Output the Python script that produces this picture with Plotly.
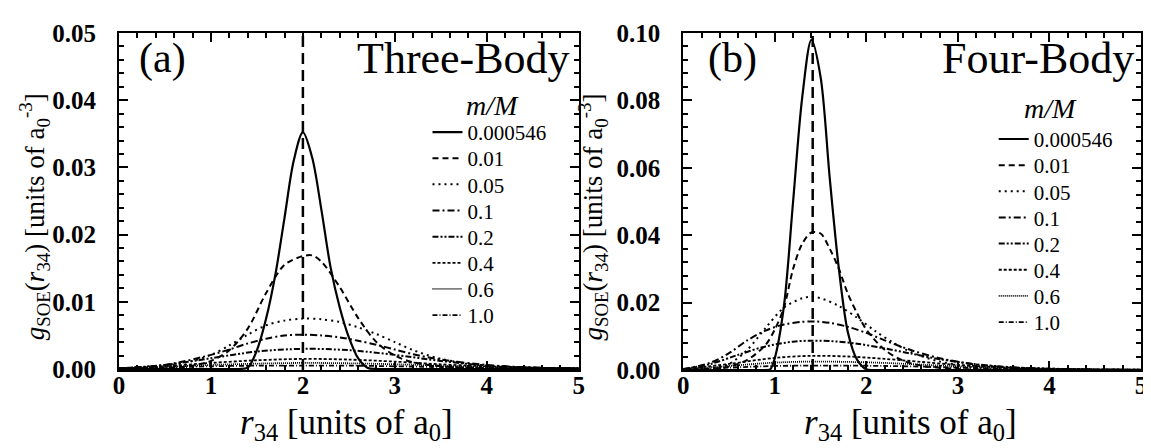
import plotly.graph_objects as go

# ---------------- data ----------------
mass_ratio_labels = ["0.000546", "0.01", "0.05", "0.1", "0.2", "0.4", "0.6", "1.0"]

# Three-body panel (a)
tb_x_0000546 = [0.0, 1.0, 1.3, 1.4, 1.5, 1.6, 1.7, 1.8, 1.9, 2.0, 2.1, 2.2, 2.3, 2.4, 2.5, 2.6, 2.7, 2.8, 3.0, 5.0]
tb_g_0000546 = [0, 0, 0, 0.0002, 0.0028, 0.0075, 0.0140, 0.0225, 0.0310, 0.0352, 0.0315, 0.0238, 0.0152, 0.0092, 0.0047, 0.0016, 0.0002, 0, 0, 0]
tb_x_001 = [0.0, 0.5, 0.8, 1.0, 1.2, 1.4, 1.6, 1.8, 2.0, 2.1, 2.2, 2.4, 2.6, 2.8, 3.0, 3.2, 3.5, 4.0, 4.5, 5.0]
tb_g_001 = [0, 0.0001, 0.0005, 0.0012, 0.0028, 0.0060, 0.0113, 0.0155, 0.0168, 0.0169, 0.0160, 0.0122, 0.0076, 0.0040, 0.0020, 0.0010, 0.0004, 0.0001, 0, 0]
tb_x_005 = [0.0, 0.5, 0.8, 1.0, 1.2, 1.4, 1.6, 1.8, 2.0, 2.2, 2.4, 2.6, 2.8, 3.0, 3.2, 3.5, 4.0, 4.5, 5.0]
tb_g_005 = [0.0, 0.0004, 0.0012, 0.0021, 0.0035, 0.0051, 0.0065, 0.0072, 0.0075, 0.0074, 0.0070, 0.0062, 0.0052, 0.0040, 0.0028, 0.0015, 0.0005, 0.0002, 0.0001]
tb_x_01 = [0.0, 0.5, 1.0, 1.2, 1.4, 1.6, 1.8, 2.0, 2.2, 2.4, 2.6, 2.8, 3.0, 3.2, 3.5, 4.0, 4.5, 5.0]
tb_g_01 = [0.0001, 0.0006, 0.0021, 0.0029, 0.0038, 0.0045, 0.0050, 0.0051, 0.0050, 0.0047, 0.0042, 0.0036, 0.0029, 0.0022, 0.0014, 0.0006, 0.0002, 0.0001]
tb_x_broad = [0.0, 0.5, 1.0, 1.5, 2.0, 2.5, 3.0, 3.5, 4.0, 4.5, 5.0]
tb_g_02 = [0.0001, 0.0006, 0.0016, 0.0026, 0.0030, 0.0028, 0.0021, 0.0012, 0.0005, 0.0002, 0.0001]
tb_g_04 = [0.0001, 0.0004, 0.0009, 0.0013, 0.0015, 0.0014, 0.0011, 0.0007, 0.0004, 0.0002, 0.0001]
tb_g_06 = [0.0001, 0.0003, 0.0006, 0.0008, 0.0009, 0.00085, 0.0007, 0.0005, 0.0003, 0.0002, 0.0001]
tb_g_10 = [0.0001, 0.0002, 0.0004, 0.0005, 0.0005, 0.0005, 0.0004, 0.0003, 0.0002, 0.0001, 0.0001]

# Four-body panel (b)
fb_x_0000546 = [0.0, 0.8, 0.9, 0.95, 1.0, 1.1, 1.2, 1.3, 1.4, 1.5, 1.6, 1.7, 1.8, 1.9, 2.0, 2.1, 2.5, 5.0]
fb_g_0000546 = [0, 0, 0, 0.0002, 0.0035, 0.019, 0.050, 0.081, 0.098, 0.087, 0.057, 0.030, 0.011, 0.003, 0.0002, 0, 0, 0]
fb_x_001 = [0.0, 0.3, 0.5, 0.7, 0.9, 1.0, 1.1, 1.2, 1.3, 1.4, 1.5, 1.6, 1.7, 1.8, 1.9, 2.0, 2.2, 2.4, 2.6, 3.0, 3.5, 5.0]
fb_g_001 = [0, 0.0003, 0.0010, 0.0030, 0.0075, 0.0120, 0.0185, 0.0300, 0.0375, 0.0408, 0.0405, 0.0360, 0.0300, 0.0225, 0.0168, 0.0120, 0.0060, 0.0028, 0.0013, 0.0003, 0.0001, 0]
fb_x_005 = [0.0, 0.3, 0.5, 0.7, 0.9, 1.1, 1.3, 1.4, 1.5, 1.7, 1.9, 2.1, 2.3, 2.5, 2.8, 3.2, 3.6, 4.0, 5.0]
fb_g_005 = [0, 0.0004, 0.0018, 0.0060, 0.0125, 0.0185, 0.0213, 0.0217, 0.0213, 0.0190, 0.0155, 0.0115, 0.0080, 0.0052, 0.0025, 0.0009, 0.0003, 0.0001, 0]
fb_x_01 = [0.0, 0.3, 0.5, 0.7, 0.9, 1.1, 1.3, 1.45, 1.6, 1.8, 2.0, 2.2, 2.5, 2.8, 3.2, 3.6, 4.0, 5.0]
fb_g_01 = [0.0002, 0.0022, 0.0050, 0.0088, 0.0117, 0.0135, 0.0143, 0.0144, 0.0140, 0.0128, 0.0110, 0.0088, 0.0058, 0.0035, 0.0016, 0.0007, 0.0003, 0]
fb_x_02 = [0.0, 0.3, 0.6, 0.9, 1.2, 1.4, 1.6, 1.9, 2.2, 2.5, 2.8, 3.2, 3.6, 4.0, 4.5, 5.0]
fb_g_02 = [0.0003, 0.0018, 0.0045, 0.0070, 0.0084, 0.0087, 0.0086, 0.0078, 0.0064, 0.0048, 0.0032, 0.0017, 0.0008, 0.0004, 0.0001, 0.0001]
fb_x_broad = [0.0, 0.5, 1.0, 1.4, 1.8, 2.2, 2.6, 3.0, 3.5, 4.0, 4.5, 5.0]
fb_g_04 = [0.0002, 0.0018, 0.0036, 0.0042, 0.0040, 0.0033, 0.0024, 0.0015, 0.0008, 0.0004, 0.0002, 0.0001]
fb_g_06 = [0.0002, 0.0012, 0.0022, 0.0025, 0.0024, 0.0021, 0.0016, 0.0011, 0.0006, 0.0003, 0.0002, 0.0001]
fb_g_10 = [0.0001, 0.0007, 0.0012, 0.0013, 0.0013, 0.0012, 0.0010, 0.0007, 0.0004, 0.0002, 0.0001, 0.0001]

# vertical reference lines (position of r34 marker in each panel)
reference_r = [2.0, 1.414]

three_body = [
    (tb_x_0000546, tb_g_0000546), (tb_x_001, tb_g_001), (tb_x_005, tb_g_005), (tb_x_01, tb_g_01),
    (tb_x_broad, tb_g_02), (tb_x_broad, tb_g_04), (tb_x_broad, tb_g_06), (tb_x_broad, tb_g_10),
]
four_body = [
    (fb_x_0000546, fb_g_0000546), (fb_x_001, fb_g_001), (fb_x_005, fb_g_005), (fb_x_01, fb_g_01),
    (fb_x_02, fb_g_02), (fb_x_broad, fb_g_04), (fb_x_broad, fb_g_06), (fb_x_broad, fb_g_10),
]

# ---------------- layout helpers ----------------
W, H = 1151, 448
ML, MR, MT, MB = 111, 13, 23, 86
PW, PH = W - ML - MR, H - MT - MB


def px_x(p):  # pixel -> paper x
    return (p - ML) / PW


def px_y(p):  # pixel -> paper y
    return (H - MB - p) / PH


line_styles = [
    ("solid", 2.2), ("6px,4px", 2.0), ("2px,4px", 2.0), ("7px,3px,2px,3px", 2.0),
    ("6px,2px,2px,2px,2px,2px", 2.0), ("3px,2px", 1.8), ("1px,1px", 1.8), ("5px,2px,1px,2px", 1.8),
]
SERIF = "Liberation Serif"

# legend placement (one single-entry legend per row so the row pitch matches)
legend_text_left = [468, 1037]
legend_first_row = [123, 130]
legend_pitch = 26.3

fig = go.Figure()
layout_legends = {}
for p, (panel, xa, ya) in enumerate([(three_body, "x", "y"), (four_body, "x2", "y2")]):
    for i, (xs, gs) in enumerate(panel):
        idx = p * 8 + i
        lname = "legend" if idx == 0 else f"legend{idx + 1}"
        dash, w = line_styles[i]
        fig.add_trace(go.Scatter(
            x=xs, y=gs, mode="lines", name=mass_ratio_labels[i],
            line=dict(color="black", width=w, dash=dash, shape="spline", smoothing=0.9),
            xaxis=xa, yaxis=ya, legend=lname, hoverinfo="skip",
        ))
        layout_legends[lname] = dict(
            x=px_x(legend_text_left[p] - 47), y=px_y(legend_first_row[p] + i * legend_pitch),
            xanchor="left", yanchor="middle",
            font=dict(family=SERIF, size=21, color="black"),
            bgcolor="rgba(0,0,0,0)", borderwidth=0, itemwidth=30,
        )

y_ranges = [[-0.00015, 0.05], [0, 0.1]]
fig.add_trace(go.Scatter(x=[reference_r[0]] * 2, y=y_ranges[0], mode="lines",
                         line=dict(color="black", width=2.5, dash="11px,6px"),
                         xaxis="x", yaxis="y", showlegend=False, hoverinfo="skip"))
fig.add_trace(go.Scatter(x=[reference_r[1]] * 2, y=y_ranges[1], mode="lines",
                         line=dict(color="black", width=2.5, dash="11px,6px"),
                         xaxis="x2", yaxis="y2", showlegend=False, hoverinfo="skip"))

tickfont = dict(family=SERIF, size=25, color="black", weight="bold")


def xaxis_cfg(domain, anchor):
    return dict(
        domain=domain, range=[0, 5], dtick=1, tick0=0, anchor=anchor,
        showline=True, linecolor="black", linewidth=2, mirror="ticks",
        ticks="inside", ticklen=9, tickwidth=2, tickcolor="black",
        minor=dict(ticks="inside", ticklen=5, tickwidth=1.5, tickcolor="black", dtick=0.2),
        showgrid=False, zeroline=False, tickfont=tickfont, ticklabelstandoff=-8,
    )


def yaxis_cfg(rng, dtick, minor_dtick, anchor):
    return dict(
        range=rng, dtick=dtick, tick0=0, tickformat=".2f", anchor=anchor,
        showline=True, linecolor="black", linewidth=2, mirror="ticks",
        ticks="inside", ticklen=9, tickwidth=2, tickcolor="black",
        minor=dict(ticks="inside", ticklen=5, tickwidth=1.5, tickcolor="black", dtick=minor_dtick),
        showgrid=False, zeroline=False, tickfont=tickfont, ticklabelstandoff=16,
    )


fig.update_layout(
    width=W, height=H,
    margin=dict(l=ML, r=MR, t=MT, b=MB),
    paper_bgcolor="white", plot_bgcolor="white",
    xaxis=xaxis_cfg([0, px_x(573)], "y"),
    xaxis2=xaxis_cfg([px_x(678), 1], "y2"),
    yaxis=yaxis_cfg(y_ranges[0], 0.01, 0.002, "x"),
    yaxis2=yaxis_cfg(y_ranges[1], 0.02, 0.004, "x2"),
    showlegend=True,
    **layout_legends,
)

x_title = "<i>r</i><sub>34</sub> [units of a<sub>0</sub>]"
y_title = "<i>g</i><sub>SOE</sub>(<i>r</i><sub>34</sub>) [units of a<sub>0</sub><sup>-3</sup>]"

annots = [
    dict(text="(a)", x=0.04, y=0.925, xref="x domain", yref="y domain", xanchor="left", size=42),
    dict(text="Three-Body", x=0.985, y=0.925, xref="x domain", yref="y domain", xanchor="right", size=44),
    dict(text="(b)", x=0.05, y=0.925, xref="x2 domain", yref="y2 domain", xanchor="left", size=42),
    dict(text="Four-Body", x=0.99, y=0.925, xref="x2 domain", yref="y2 domain", xanchor="right", size=44),
    dict(text="<i>m/M</i>", x=px_x(486), y=px_y(96), xref="paper", yref="paper", xanchor="center", size=28),
    dict(text="<i>m/M</i>", x=px_x(1047), y=px_y(99), xref="paper", yref="paper", xanchor="center", size=28),
    dict(text=x_title, x=px_x(340), y=px_y(417), xref="paper", yref="paper", xanchor="center", size=35),
    dict(text=x_title, x=px_x(906), y=px_y(417), xref="paper", yref="paper", xanchor="center", size=35),
    dict(text=y_title, x=px_x(26), y=px_y(208), xref="paper", yref="paper", xanchor="center", size=27, textangle=-90),
    dict(text=y_title, x=px_x(587), y=px_y(208), xref="paper", yref="paper", xanchor="center", size=27, textangle=-90),
]
for a in annots:
    size = a.pop("size")
    fig.add_annotation(showarrow=False, yanchor="middle",
                       font=dict(family=SERIF, size=size, color="black"), **a)

fig.write_html("out.html")
